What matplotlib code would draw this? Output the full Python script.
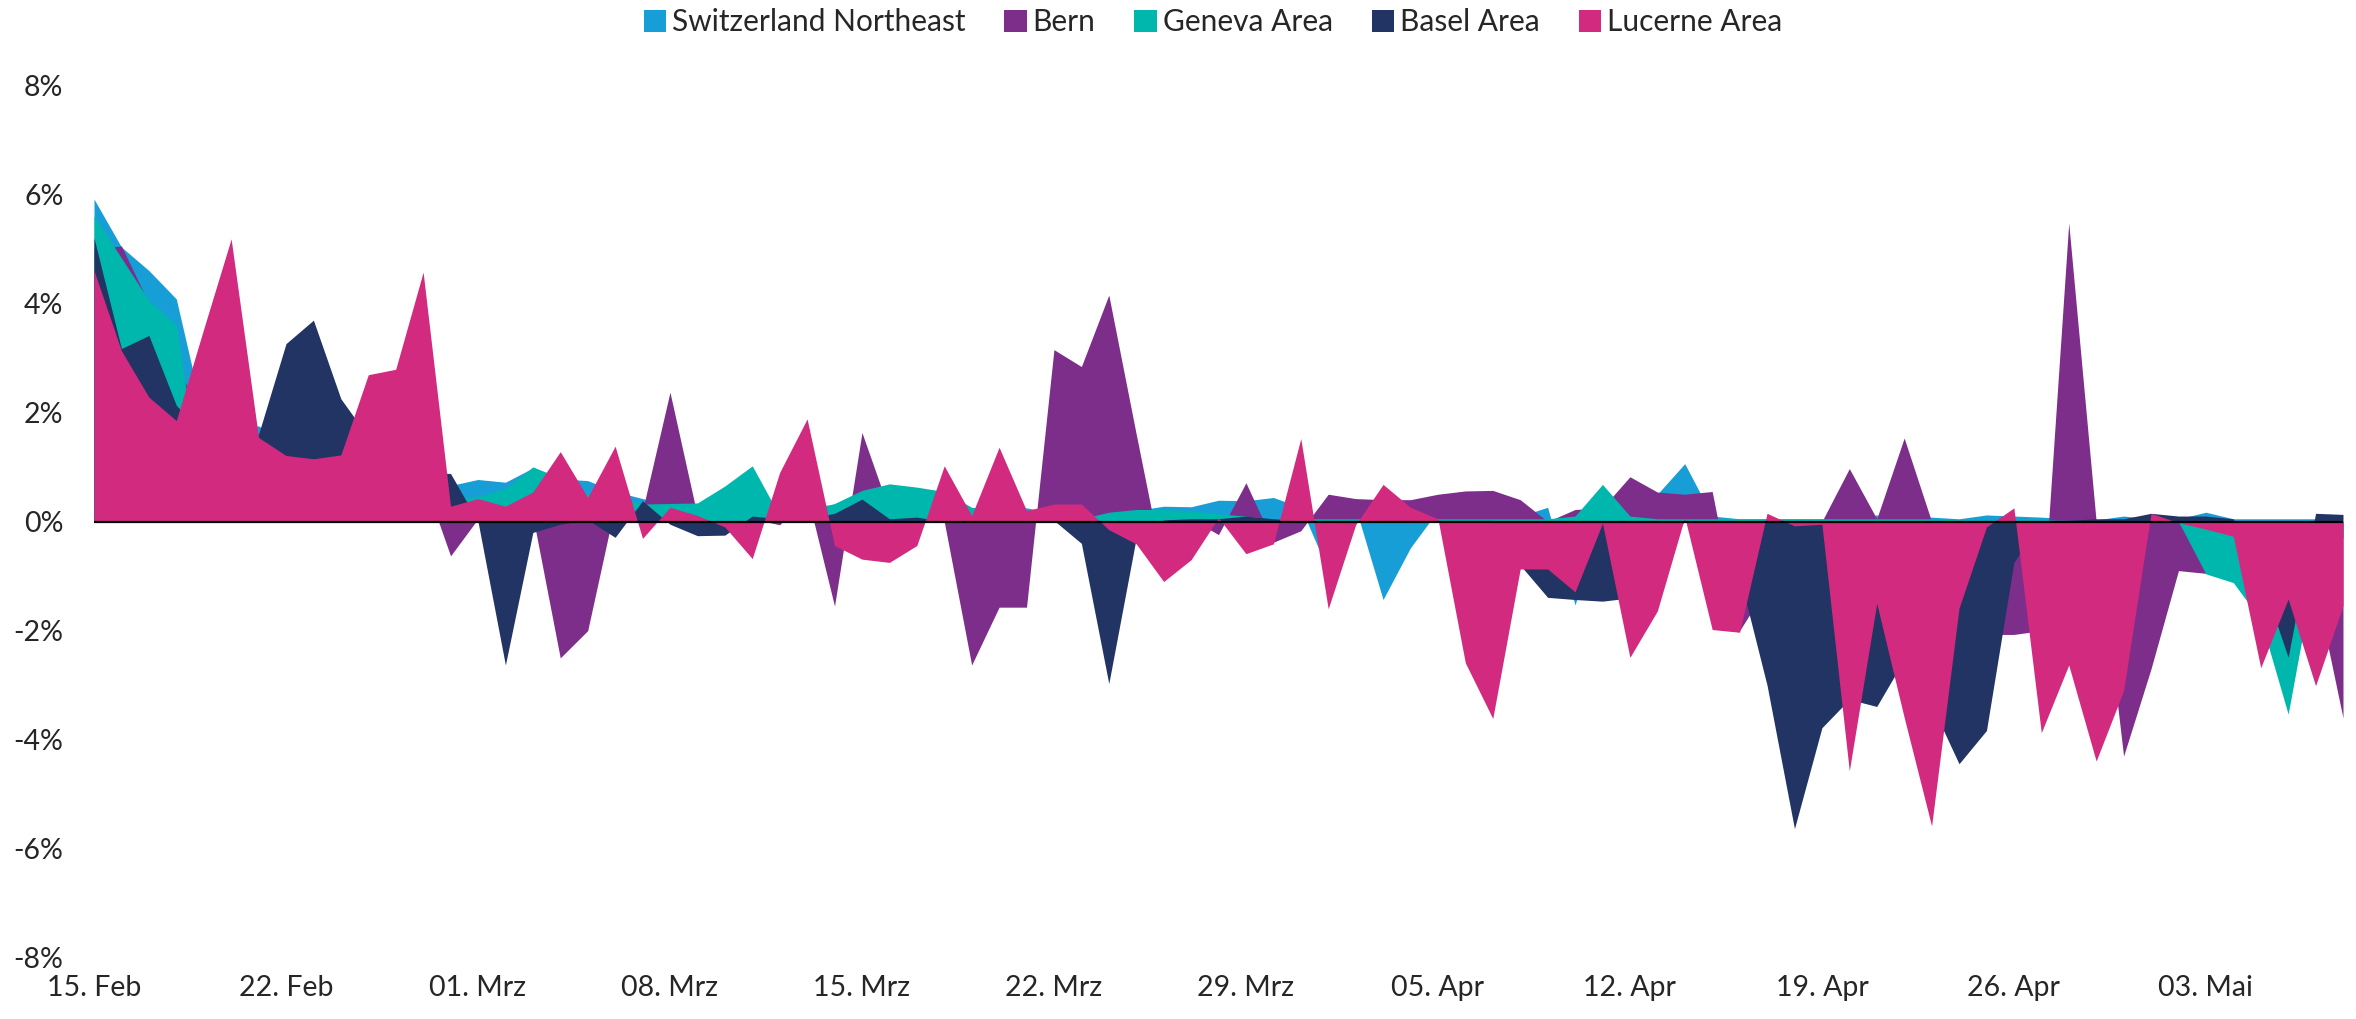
import matplotlib
matplotlib.use("Agg")
import matplotlib.pyplot as plt
import numpy as np

plt.rcParams["font.family"] = ["Lato", "DejaVu Sans"]

# daily change in %, 15 Feb - 08 May (one value per day)
SERIES_NAMES = ["Switzerland Northeast", "Bern", "Geneva Area", "Basel Area", "Lucerne Area"]
COLORS = ["#189ed6", "#7c2e8a", "#00b7ae", "#213463", "#d22a7e"]

northeast = [
    5.91, 5.03, 4.60, 4.08, 1.90, 1.80, 1.75, 1.50, 1.20, 1.10, 1.00, 0.90, 0.85, 0.66,
    0.77, 0.72, 0.98, 0.78, 0.75, 0.55, 0.42, 0.30, 0.30, 0.35, 0.40, 0.30, 0.30, 0.30,
    0.30, 0.40, 0.35, 0.30, 0.25, 0.25, 0.25, 0.15, 0.10, 0.18, 0.20, 0.28, 0.27, 0.39,
    0.38, 0.44, 0.26, -0.90, 0.25, -1.43, -0.48, 0.20, 0.20, 0.15, 0.10, 0.26, -1.53, 0.10,
    0.20, 0.50, 1.06, 0.10, 0.05, 0.05, 0.05, 0.05, 0.05, 0.12, 0.05, 0.08, 0.05, 0.12,
    0.10, 0.08, 0.05, 0.03, 0.10, 0.05, 0.05, 0.17, 0.05, 0.05, 0.05, 0.05, -0.29,
]
bern = [
    5.00, 5.05, 4.00, 2.80, 2.00, 1.80, 1.50, 1.20, 1.00, 1.00, 1.20, 1.00, 0.80, -0.63,
    0.05, -0.50, 0.10, -2.50, -2.00, 0.30, 0.20, 2.37, 0.10, 0.10, 0.05, -0.06, 0.50, -1.55,
    1.63, 0.20, 0.10, 0.00, -2.63, -1.57, -1.57, 3.15, 2.84, 4.15, 1.60, -0.90, 0.05, -0.24,
    0.71, -0.38, -0.17, 0.50, 0.42, 0.40, 0.40, 0.50, 0.56, 0.57, 0.40, 0.00, 0.22, 0.25,
    0.82, 0.54, 0.50, 0.55, -2.00, -1.20, -0.30, 0.00, 0.97, 0.05, 1.53, 0.00, -0.50, -2.07,
    -2.07, -2.00, 5.47, 0.00, -4.30, -2.70, -0.90, -0.95, -0.60, -0.90, -1.10, -1.20, -3.60,
]
geneva = [
    5.60, 4.83, 4.05, 3.60, 0.30, 0.30, 0.30, 0.30, 0.30, 0.30, 0.40, 0.40, 0.40, 0.40,
    0.46, 0.60, 1.00, 0.80, 0.50, 0.45, 0.32, 0.33, 0.34, 0.65, 1.02, 0.10, 0.20, 0.33,
    0.57, 0.69, 0.63, 0.55, 0.26, 0.20, 0.20, 0.10, 0.05, 0.17, 0.22, 0.22, 0.20, 0.14,
    0.10, 0.05, 0.05, 0.05, 0.05, 0.05, 0.05, 0.05, 0.05, 0.05, 0.05, 0.05, 0.10, 0.68,
    0.10, 0.05, 0.05, 0.05, 0.05, 0.05, 0.05, 0.05, 0.05, 0.05, 0.05, 0.05, 0.03, 0.03,
    0.03, 0.03, 0.02, 0.02, 0.02, 0.02, 0.00, -0.96, -1.12, -1.80, -3.53, -0.80, -0.30,
]
basel = [
    5.20, 3.17, 3.41, 2.13, 1.60, 1.50, 1.60, 3.26, 3.69, 2.25, 1.55, 1.00, 0.90, 0.88,
    0.00, -2.63, -0.20, -0.05, 0.03, -0.29, 0.38, -0.05, -0.26, -0.25, 0.10, 0.05, 0.05, 0.15,
    0.41, 0.05, 0.08, 0.00, 0.00, 0.00, 0.02, 0.02, -0.40, -2.97, -0.30, 0.03, 0.05, 0.05,
    0.10, 0.05, 0.02, 0.02, 0.02, 0.02, 0.02, 0.02, 0.02, 0.02, -0.80, -1.39, -1.43, -1.46,
    -1.40, -0.50, 0.00, 0.00, -1.00, -3.00, -5.63, -3.78, -3.26, -3.39, -2.53, -3.36, -4.44, -3.83,
    -0.75, 0.00, 0.02, 0.05, 0.05, 0.15, 0.10, 0.10, 0.05, -1.00, -2.49, 0.15, 0.13,
]
lucerne = [
    4.60, 3.13, 2.28, 1.85, 3.53, 5.18, 1.54, 1.21, 1.15, 1.22, 2.69, 2.79, 4.57, 0.28,
    0.42, 0.28, 0.54, 1.28, 0.44, 1.38, -0.31, 0.26, 0.11, -0.10, -0.68, 0.90, 1.88, -0.44,
    -0.69, -0.75, -0.44, 1.02, 0.11, 1.36, 0.20, 0.32, 0.32, -0.15, -0.41, -1.10, -0.70, 0.07,
    -0.59, -0.41, 1.52, -1.60, -0.06, 0.68, 0.26, 0.05, -2.59, -3.61, -0.87, -0.87, -1.29, -0.03,
    -2.49, -1.64, 0.08, -1.98, -2.03, 0.15, -0.08, -0.05, -4.57, -1.50, -3.59, -5.58, -1.59, -0.10,
    0.25, -3.87, -2.63, -4.39, -3.10, 0.15, -0.02, -0.14, -0.27, -2.68, -1.42, -3.01, -1.54,
]

TICK_LABELS = ["15. Feb", "22. Feb", "01. Mrz", "08. Mrz", "15. Mrz", "22. Mrz",
               "29. Mrz", "05. Apr", "12. Apr", "19. Apr", "26. Apr", "03. Mai"]
Y_TICKS = [-8, -6, -4, -2, 0, 2, 4, 6, 8]

W, H = 2356, 1019
fig = plt.figure(figsize=(W / 100, H / 100), dpi=100)
ax = fig.add_axes([94 / W, 1 - 958 / H, (2343 - 94) / W, (958 - 85) / H])

days = np.arange(len(lucerne))
all_series = [northeast, bern, geneva, basel, lucerne]
for name, vals, col in zip(SERIES_NAMES, all_series, COLORS):
  ax.fill_between(days, vals, 0, color=col, linewidth=0, label=name)

ax.axhline(0, color="black", linewidth=1.6, zorder=10)

ax.set_xlim(0, len(lucerne) - 1)
ax.set_ylim(-8, 8)
ax.set_xticks(np.arange(0, 7 * len(TICK_LABELS), 7))
ax.set_xticklabels(TICK_LABELS)
ax.set_yticks(Y_TICKS)
ax.set_yticklabels([f"{v}%" for v in Y_TICKS])
ax.tick_params(axis="both", length=0, labelsize=20.5, colors="#262626")
ax.tick_params(axis="y", pad=22)
ax.tick_params(axis="x", pad=12)
for s in ax.spines.values():
  s.set_visible(False)

fig.legend(loc="center", bbox_to_anchor=(1213 / W, 1 - 22 / H), ncol=5,
           frameon=False, fontsize=21.5, handlelength=0.75, handleheight=0.75,
           handletextpad=0.2, columnspacing=1.3, labelcolor="#262626")

fig.savefig("out.png", dpi=100)
